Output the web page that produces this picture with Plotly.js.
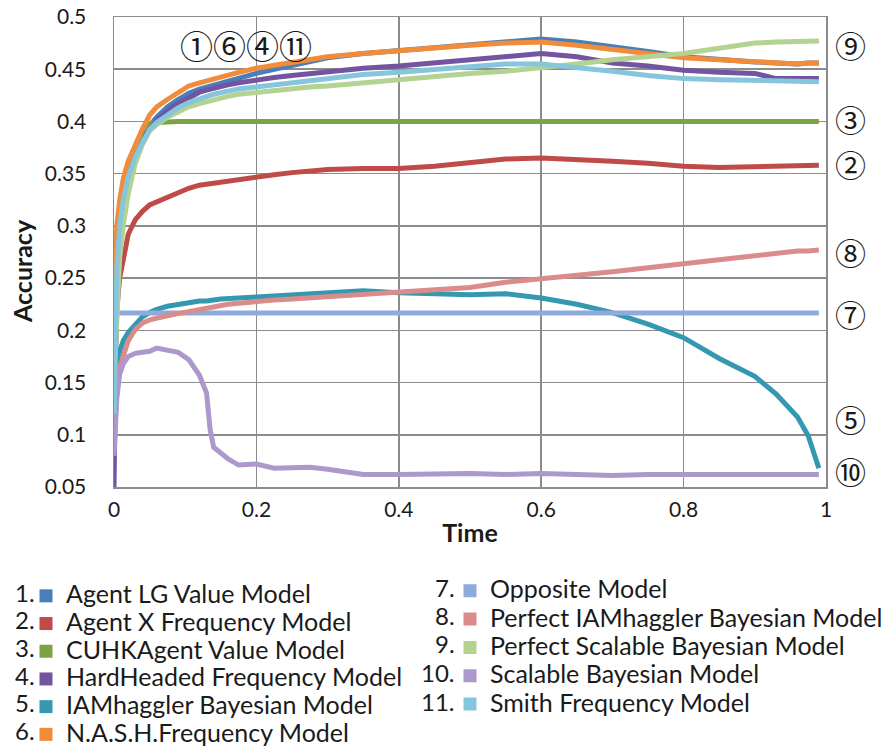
<!DOCTYPE html>
<html><head><meta charset="utf-8">
<script src="https://cdn.plot.ly/plotly-3.0.1.min.js"></script>
<style>html,body{margin:0;padding:0;background:#fff}#chart{width:884px;height:747px}</style>
</head><body><div id="chart"></div>
<script>
// ---- data ----
const time = [0, 0.004, 0.008, 0.013, 0.02, 0.03, 0.04, 0.05, 0.06, 0.075, 0.09, 0.105, 0.12, 0.13, 0.135, 0.14, 0.15, 0.16, 0.175, 0.2,
  0.225, 0.25, 0.275, 0.3, 0.35, 0.4, 0.45, 0.5, 0.55, 0.6, 0.65, 0.7, 0.75, 0.8, 0.85, 0.9, 0.93, 0.96, 0.975, 0.99];

const agentLGValue = [0.2, 0.28, 0.31, 0.332, 0.352, 0.37, 0.384, 0.396, 0.404, 0.414, 0.421, 0.427, 0.431, 0.433, 0.434, 0.435, 0.437, 0.439, 0.442, 0.446,
  0.45, 0.454, 0.458, 0.461, 0.465, 0.468, 0.471, 0.474, 0.477, 0.479, 0.476, 0.472, 0.467, 0.462, 0.459, 0.457, 0.456, 0.455, 0.456, 0.456];
const agentXFrequency = [0.15, 0.22, 0.25, 0.267, 0.292, 0.306, 0.314, 0.32, 0.323, 0.328, 0.332, 0.336, 0.339, 0.34, 0.341, 0.341, 0.342, 0.343, 0.345, 0.347,
  0.349, 0.351, 0.353, 0.354, 0.355, 0.355, 0.357, 0.36, 0.364, 0.365, 0.364, 0.362, 0.36, 0.357, 0.356, 0.357, 0.357, 0.358, 0.358, 0.358];
const cuhkAgentValue = [0.2, 0.28, 0.31, 0.33, 0.35, 0.375, 0.392, 0.398, 0.399, 0.4, 0.4, 0.4, 0.4, 0.4, 0.4, 0.4, 0.4, 0.4, 0.4, 0.4,
  0.4, 0.4, 0.4, 0.4, 0.4, 0.4, 0.4, 0.4, 0.4, 0.4, 0.4, 0.4, 0.4, 0.4, 0.4, 0.4, 0.4, 0.4, 0.4, 0.4];
const hardHeadedFrequency = [0.05, 0.25, 0.3, 0.327, 0.348, 0.366, 0.38, 0.392, 0.401, 0.41, 0.417, 0.423, 0.428, 0.43, 0.431, 0.432, 0.434, 0.435, 0.437, 0.44,
  0.442, 0.444, 0.446, 0.447, 0.451, 0.453, 0.456, 0.458, 0.462, 0.465, 0.462, 0.456, 0.453, 0.449, 0.447, 0.446, 0.441, 0.441, 0.442, 0.441];
const iamhagglerBayesian = [0.12, 0.16, 0.18, 0.19, 0.198, 0.205, 0.213, 0.217, 0.22, 0.223, 0.225, 0.227, 0.228, 0.228, 0.229, 0.229, 0.23, 0.23, 0.231, 0.232,
  0.233, 0.234, 0.236, 0.237, 0.238, 0.236, 0.235, 0.234, 0.235, 0.231, 0.225, 0.217, 0.206, 0.193, 0.173, 0.156, 0.139, 0.117, 0.099, 0.068];
const nashFrequency = [0.22, 0.3, 0.325, 0.345, 0.362, 0.379, 0.393, 0.406, 0.414, 0.421, 0.428, 0.434, 0.437, 0.439, 0.44, 0.441, 0.443, 0.445, 0.447, 0.451,
  0.454, 0.457, 0.46, 0.462, 0.465, 0.468, 0.47, 0.473, 0.475, 0.476, 0.473, 0.469, 0.465, 0.461, 0.459, 0.457, 0.456, 0.455, 0.456, 0.456];
const oppositeModel = [0.2165, 0.2165, 0.2165, 0.2165, 0.2165, 0.2165, 0.2165, 0.2165, 0.2165, 0.2165, 0.2165, 0.2165, 0.2165, 0.2165, 0.2165, 0.2165, 0.2165, 0.2165, 0.2165, 0.2165,
  0.2165, 0.2165, 0.2165, 0.2165, 0.2165, 0.2165, 0.2165, 0.2165, 0.2165, 0.2165, 0.2165, 0.2165, 0.2165, 0.2165, 0.2165, 0.2165, 0.2165, 0.2165, 0.2165, 0.2165];
const perfectIAMhagglerBayesian = [0.15, 0.155, 0.165, 0.177, 0.19, 0.201, 0.207, 0.21, 0.212, 0.214, 0.216, 0.218, 0.219, 0.221, 0.222, 0.222, 0.223, 0.225, 0.226, 0.228,
  0.229, 0.23, 0.231, 0.232, 0.234, 0.237, 0.238, 0.241, 0.246, 0.249, 0.252, 0.256, 0.26, 0.264, 0.268, 0.272, 0.274, 0.276, 0.276, 0.277];
const perfectScalableBayesian = [0.15, 0.22, 0.27, 0.3, 0.331, 0.36, 0.378, 0.391, 0.397, 0.404, 0.409, 0.414, 0.417, 0.419, 0.42, 0.421, 0.422, 0.424, 0.426, 0.428,
  0.43, 0.431, 0.433, 0.434, 0.437, 0.441, 0.443, 0.446, 0.448, 0.451, 0.455, 0.459, 0.462, 0.465, 0.47, 0.475, 0.476, 0.477, 0.477, 0.477];
const scalableBayesian = [0.08, 0.135, 0.158, 0.168, 0.175, 0.178, 0.179, 0.18, 0.183, 0.181, 0.179, 0.172, 0.157, 0.14, 0.105, 0.088, 0.082, 0.077, 0.071, 0.072,
  0.068, 0.069, 0.069, 0.067, 0.062, 0.062, 0.063, 0.063, 0.062, 0.063, 0.062, 0.061, 0.062, 0.062, 0.062, 0.062, 0.062, 0.062, 0.062, 0.062];
const smithFrequency = [0.12, 0.26, 0.3, 0.325, 0.347, 0.366, 0.38, 0.392, 0.399, 0.406, 0.413, 0.418, 0.422, 0.424, 0.425, 0.426, 0.428, 0.429, 0.431, 0.433,
  0.436, 0.438, 0.44, 0.442, 0.445, 0.447, 0.45, 0.452, 0.455, 0.455, 0.452, 0.448, 0.444, 0.441, 0.44, 0.439, 0.438, 0.438, 0.438, 0.438];

const seriesNames = ['Agent LG Value Model', 'Agent X Frequency Model', 'CUHKAgent Value Model', 'HardHeaded Frequency Model',
  'IAMhaggler Bayesian Model', 'N.A.S.H.Frequency Model', 'Opposite Model', 'Perfect IAMhaggler Bayesian Model',
  'Perfect Scalable Bayesian Model', 'Scalable Bayesian Model', 'Smith Frequency Model'];
const seriesValues = [agentLGValue, agentXFrequency, cuhkAgentValue, hardHeadedFrequency, iamhagglerBayesian, nashFrequency,
  oppositeModel, perfectIAMhagglerBayesian, perfectScalableBayesian, scalableBayesian, smithFrequency];
const seriesNumbers = ['1.', '2.', '3.', '4.', '5.', '6.', '7.', '8.', '9.', '10.', '11.'];
const circledLabels = ['①', '②', '③', '④', '⑤', '⑥', '⑦', '⑧', '⑨', '⑩', '⑪'];
const topLabelGroup = [0, 5, 3, 10];   // ①⑥④⑪ grouped above the curves
const xTitle = 'Time';
const yTitle = 'Accuracy';

const xTickVals = [0, 0.2, 0.4, 0.6, 0.8, 1];
const xTickText = ['0', '0.2', '0.4', '0.6', '0.8', '1'];
const yTickVals = [0.05, 0.1, 0.15, 0.2, 0.25, 0.3, 0.35, 0.4, 0.45, 0.5];
const yTickText = ['0.05', '0.1', '0.15', '0.2', '0.25', '0.3', '0.35', '0.4', '0.45', '0.5'];

// ---- styles / placement ----
const colors = ['#4A7EBB', '#BE4B48', '#7BA344', '#7254A0', '#3398B0', '#F08C3A',
  '#8FAADC', '#D98C8A', '#B4D291', '#AC98CA', '#86C6DC'];
const W = 884, H = 747;
const plotL = 114, plotW = 712, plotT = 17, plotH = 470, plotB = plotT + plotH;
// right-hand circled labels: series index and pixel row of the label centre
const rightLabels = [{i: 8, py: 45}, {i: 2, py: 118.5}, {i: 1, py: 164}, {i: 7, py: 251},
  {i: 6, py: 313}, {i: 4, py: 418}, {i: 9, py: 470}];

const traces = [];
seriesValues.forEach((vals, i) => {
  traces.push({
    type: 'scatter', mode: 'lines', x: time, y: vals, name: seriesNames[i],
    line: {color: colors[i], width: 5}, showlegend: false, hoverinfo: 'x+y+name'
  });
});
// legend entries (square swatches)
seriesNames.forEach((n, i) => {
  traces.push({
    type: 'scatter', mode: 'markers', x: [null], y: [null],
    name: '<span style="font-size:25px">' + n + '</span>',
    marker: {symbol: 'square', size: 13, color: colors[i], line: {width: 0}},
    legend: i < 6 ? 'legend' : 'legend2', showlegend: true, hoverinfo: 'skip'
  });
});

const annotations = [];
annotations.push({x: (245.5 - plotL) / plotW, y: (plotB - 45) / plotH, xref: 'paper', yref: 'paper',
  text: topLabelGroup.map(i => circledLabels[i]).join(''), showarrow: false,
  xanchor: 'center', yanchor: 'middle', font: {family: 'Noto Sans CJK JP', size: 33, color: '#1a1a1a'}});
rightLabels.forEach(p => {
  annotations.push({x: (850 - plotL) / plotW, y: (plotB - p.py) / plotH, xref: 'paper', yref: 'paper',
    text: circledLabels[p.i], showarrow: false,
    xanchor: 'center', yanchor: 'middle', font: {family: 'Noto Sans CJK JP', size: 31, color: '#1a1a1a'}});
});
seriesNumbers.forEach((t, i) => {
  const left = i < 6;
  const k = left ? i : i - 6;
  const px = left ? 37 : 457;
  const py = left ? 592 + 27.7 * k : 587 + 28.5 * k;
  annotations.push({x: (px - plotL) / plotW, y: (plotB - py) / plotH, xref: 'paper', yref: 'paper', text: t,
    showarrow: false, xanchor: 'right', yanchor: 'middle', font: {size: 24, color: '#1a1a1a'}});
});
// y-axis title
annotations.push({x: (22 - plotL) / plotW, y: (plotB - 271) / plotH, xref: 'paper', yref: 'paper', text: yTitle,
  textangle: -90, showarrow: false, xanchor: 'center', yanchor: 'middle', font: {size: 25, weight: 700, color: '#1a1a1a'}});

const axisCommon = {
  showgrid: true, gridcolor: '#8c8c8c', gridwidth: 1.5, showline: true, linecolor: '#8c8c8c', linewidth: 1.5,
  mirror: true, zeroline: false, ticks: '', fixedrange: true, automargin: false
};

const layout = {
  width: W, height: H,
  margin: {l: plotL, r: W - plotL - plotW, t: plotT, b: H - plotB, pad: 0, autoexpand: false},
  paper_bgcolor: '#ffffff', plot_bgcolor: '#ffffff',
  font: {family: 'Lato, "Open Sans", sans-serif', color: '#1a1a1a'},
  xaxis: Object.assign({}, axisCommon, {
    range: [0, 1], tickmode: 'array', tickvals: xTickVals, ticktext: xTickText,
    tickfont: {size: 21}, ticklabelstandoff: 3,
    title: {text: xTitle, font: {size: 25, weight: 700}, standoff: 5}
  }),
  yaxis: Object.assign({}, axisCommon, {
    range: [0.05, 0.5], tickmode: 'array', tickvals: yTickVals, ticktext: yTickText,
    tickfont: {size: 21}, ticklabelstandoff: 22
  }),
  showlegend: true,
  legend: {xref: 'container', yref: 'container', x: 26 / W, xanchor: 'left', y: 1 - 577 / H, yanchor: 'top',
    font: {size: 19, color: '#1a1a1a'}, bgcolor: 'rgba(0,0,0,0)', borderwidth: 0, itemwidth: 30, traceorder: 'normal'},
  legend2: {xref: 'container', yref: 'container', x: 450 / W, xanchor: 'left', y: 1 - 571.5 / H, yanchor: 'top',
    font: {size: 19.5, color: '#1a1a1a'}, bgcolor: 'rgba(0,0,0,0)', borderwidth: 0, itemwidth: 30, traceorder: 'normal'},
  annotations: annotations
};

Plotly.newPlot('chart', traces, layout, {displayModeBar: false, staticPlot: true});
</script>
</body></html>
